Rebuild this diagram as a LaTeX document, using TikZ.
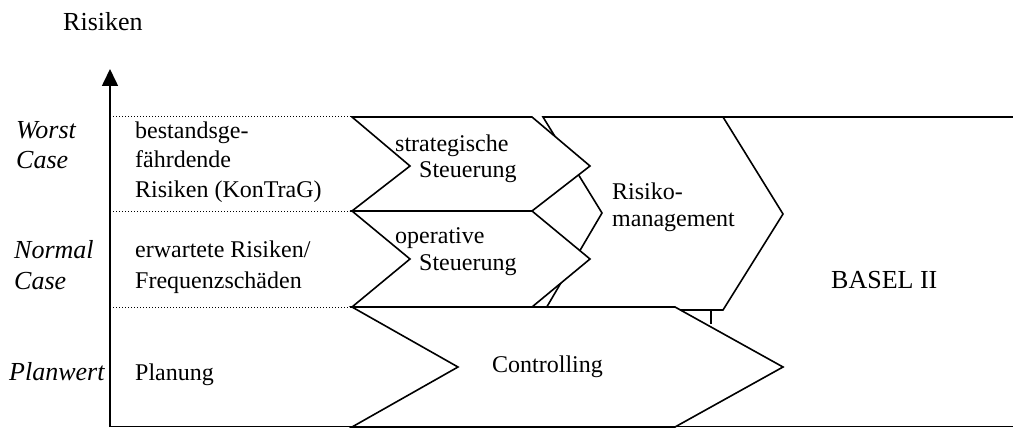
\documentclass[tikz,border=0pt]{standalone}
\usepackage{fontspec}
\setmainfont{Liberation Serif}
\usetikzlibrary{arrows.meta}
\begin{document}
\begin{tikzpicture}[x=1pt,y=-1pt,
  txt/.style={inner sep=0pt, anchor=base west, font=\fontsize{24}{30}\selectfont},
  big/.style={inner sep=0pt, anchor=base west, font=\fontsize{26}{30}\selectfont},
  ml/.style={inner sep=0pt, align=left, anchor=north west},
  shp/.style={draw=black, fill=white, line width=1.6pt, line join=miter},
  solid line/.style={line width=1.6pt},
  dots/.style={dotted, line width=1pt}]
\useasboundingbox (0,0) rectangle (1013,428);

% BASEL II frame lines
\coordinate (bTL) at (543,117);
\coordinate (bTR) at (1013,117);
\coordinate (bBL) at (110,426.5);
\coordinate (bBR) at (1013,426.5);
\draw[solid line] (bTL) -- (bTR);
\draw[solid line] (bBL) -- (bBR);

% Risikomanagement chevron
\draw[shp] (543,117) -- (723,117) -- (783,214) -- (723,310) -- (545,310) -- (602,213) -- cycle;
\coordinate (tickA) at (711,310);
\coordinate (tickB) at (711,324);
\draw[line width=1.2pt] (tickA) -- (tickB);

% Controlling chevron
\draw[shp] (352,307) -- (675,307) -- (783,367) -- (675,427) -- (352,427) -- (458,367) -- cycle;

% strategische / operative Steuerung
\draw[shp] (352,117) -- (532,117) -- (590,166) -- (532,211) -- (352,211) -- (410,166) -- cycle;
\draw[shp] (352,211) -- (532,211) -- (590,259) -- (532,307) -- (352,307) -- (410,259) -- cycle;

% dotted level lines
\coordinate (d1a) at (113,117); \coordinate (d1b) at (352,117);
\coordinate (d2a) at (113,211); \coordinate (d2b) at (352,211);
\coordinate (d3a) at (113,307); \coordinate (d3b) at (352,307);
\draw[dots] (d1a) -- (d1b);
\draw[dots] (d2a) -- (d2b);
\draw[dots] (d3a) -- (d3b);

% axis
\coordinate (ax0) at (110,427);
\coordinate (ax1) at (110,69);
\draw[solid line, -{Triangle[width=16pt,length=17pt]}] (ax0) -- (ax1);

% texts
\node[big] (title) at (63,30.5) {Risiken};

\node[ml, font=\fontsize{26}{30}\selectfont\itshape] (worst) at (16,120.8) {Worst\\Case};
\node[ml, font=\fontsize{26}{31}\selectfont\itshape] (normal) at (14,239.8) {Normal\\Case};
\node[big, font=\fontsize{26}{30}\selectfont\itshape] (plan) at (9,380) {Planwert};

\node[ml, font=\fontsize{24}{29.5}\selectfont] (best) at (135,121.6) {bestandsge-\\fährdende\\Risiken (KonTraG)};
\node[ml, font=\fontsize{24}{31}\selectfont] (erw) at (135,241) {erwartete Risiken/\\Frequenzschäden};
\node[txt] (planung) at (135,380) {Planung};

\node[ml, font=\fontsize{24}{26.5}\selectfont] (strat) at (395,134.6) {strategische\\\hspace*{24pt}Steuerung};
\node[ml, font=\fontsize{24}{26.5}\selectfont] (oper) at (395,227.6) {operative\\\hspace*{24pt}Steuerung};
\node[ml, font=\fontsize{24}{27}\selectfont] (risk) at (612,182.6) {Risiko-\\management};
\node[big] (basel) at (831,288) {BASEL II};
\node[txt] (contr) at (492,372) {Controlling};
\end{tikzpicture}
\end{document}
